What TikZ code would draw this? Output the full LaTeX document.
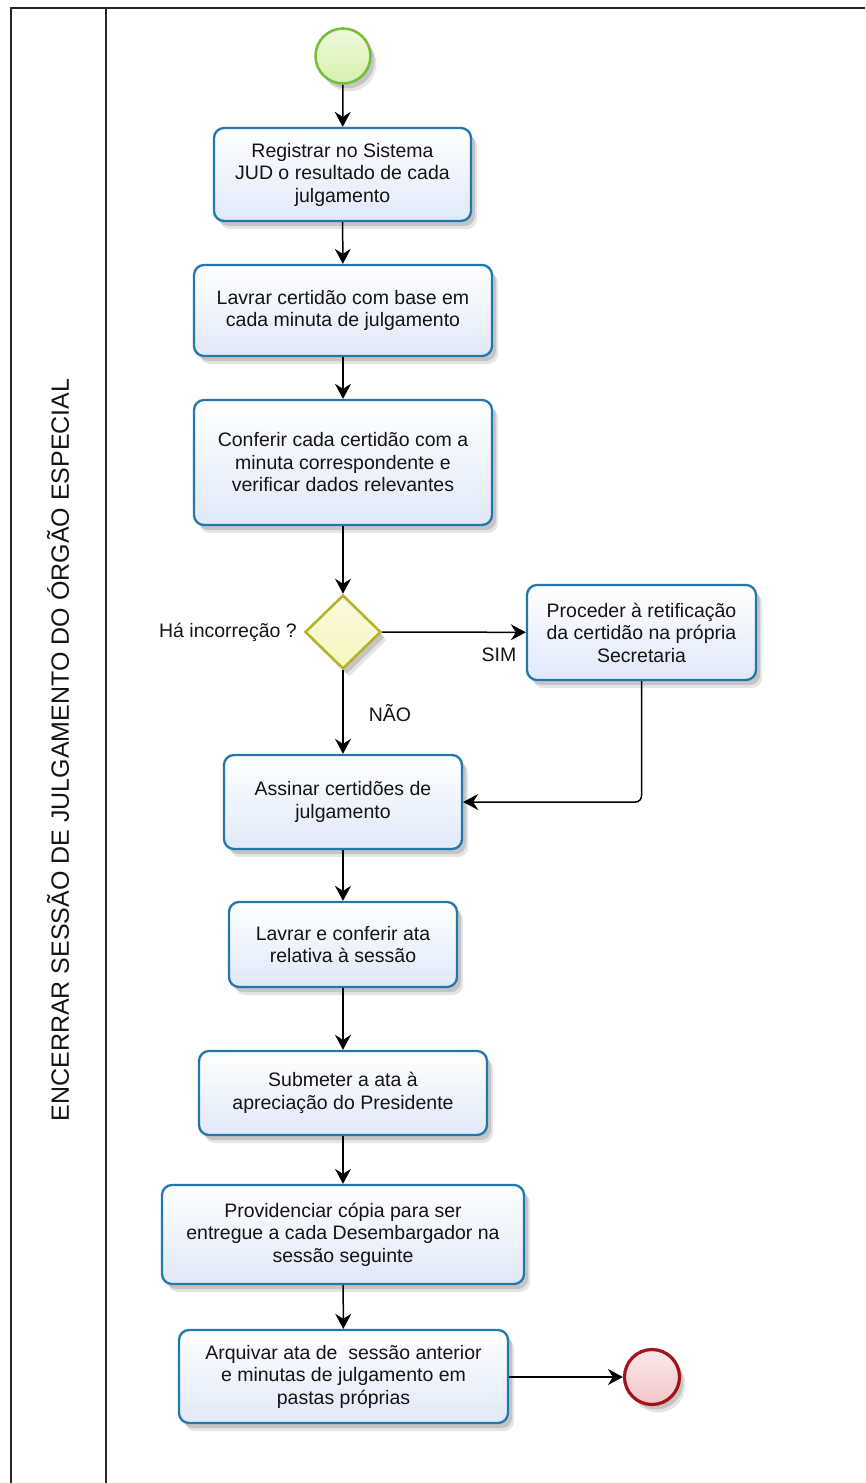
\documentclass[tikz,border=0pt]{standalone}
\usepackage{fontspec}
\setmainfont{Liberation Sans}
\usetikzlibrary{arrows.meta,shapes.geometric,shadows}
\definecolor{taskline}{HTML}{2477AC}
\definecolor{taskfill}{HTML}{E0E8F8}
\definecolor{startline}{HTML}{78BE3C}
\definecolor{startfill}{HTML}{D6F0AC}
\definecolor{endline}{HTML}{A3141A}
\definecolor{endfill}{HTML}{F2C6C8}
\definecolor{gateline}{HTML}{B4B42A}
\definecolor{gatefill}{HTML}{F6F6BE}
\definecolor{txt}{HTML}{141414}
\begin{document}
\begin{tikzpicture}[x=1pt,y=-1pt,
  softshadow/.style={
    drop shadow={shadow xshift=6pt,shadow yshift=-8pt,opacity=0.10,fill=black},
    drop shadow={shadow xshift=4pt,shadow yshift=-5pt,opacity=0.14,fill=black}},
  task/.style={draw=taskline,line width=2.3pt,rounded corners=10pt,
    top color=white,bottom color=taskfill,softshadow,
    align=center,text=txt,inner sep=0pt,
    font=\fontsize{19.5}{22.5}\selectfont},
  startev/.style={circle,draw=startline,line width=2.6pt,minimum size=55pt,
    inner sep=0pt,top color=white!60!startfill,bottom color=startfill,softshadow},
  endev/.style={circle,draw=endline,line width=3.2pt,minimum size=55pt,
    inner sep=0pt,top color=white!60!endfill,bottom color=endfill,softshadow},
  gate/.style={diamond,draw=gateline,line width=2.6pt,minimum width=76pt,
    minimum height=74pt,inner sep=0pt,top color=white!50!gatefill,
    bottom color=gatefill,softshadow},
  flow/.style={-{Stealth[length=15pt,width=16pt,inset=5pt]},line width=1.5pt,black},
  lbl/.style={text=txt,font=\fontsize{19.5}{22}\selectfont,inner sep=0pt},
  lane/.style={line width=1.6pt,draw=black!85}
]
\useasboundingbox (0,0) rectangle (865,1483);

% pool frame and lane header
\draw[lane] (11,1483) -- (11,8) -- (865,8);
\draw[lane] (106,8) -- (106,1483);
\node[rotate=90,text=txt,font=\fontsize{25}{28}\selectfont,inner sep=0pt] (lanetitle)
  at (58,750) {ENCERRAR SESSÃO DE JULGAMENTO DO ÓRGÃO ESPECIAL};

% events, tasks and gateway
\node[startev] (start) at (343,56) {};
\node[task,minimum width=257pt,minimum height=93pt] (t1) at (342.5,174.5)
  {Registrar no Sistema\\JUD o resultado de cada\\julgamento};
\node[task,minimum width=298pt,minimum height=91pt] (t2) at (343,310.5)
  {Lavrar certidão com base em\\cada minuta de julgamento};
\node[task,minimum width=298pt,minimum height=125pt] (t3) at (343,462.5)
  {Conferir cada certidão com a\\minuta correspondente e\\verificar dados relevantes};
\node[gate] (g) at (343,632) {};
\node[task,minimum width=229pt,minimum height=95pt] (ret) at (641.5,632.5)
  {Proceder à retificação\\da certidão na própria\\Secretaria};
\node[task,minimum width=238pt,minimum height=94pt] (t4) at (343,802)
  {Assinar certidões de\\julgamento};
\node[task,minimum width=228pt,minimum height=85pt] (t5) at (343,944.5)
  {Lavrar e conferir ata\\relativa à sessão};
\node[task,minimum width=288pt,minimum height=84pt] (t6) at (343,1093)
  {Submeter a ata à\\apreciação do Presidente};
\node[task,minimum width=362pt,minimum height=99pt] (t7) at (343,1234.5)
  {Providenciar cópia para ser\\entregue a cada Desembargador na\\sessão seguinte};
\node[task,minimum width=329pt,minimum height=93pt] (t8) at (343.5,1376.5)
  {Arquivar ata de\ \ sessão anterior\\e minutas de julgamento em\\pastas próprias};
\node[endev] (end) at (652,1377) {};

% labels
\node[lbl,anchor=east] (q) at (297,632) {Há incorreção ?};
\node[lbl] (sim) at (499,655) {SIM};
\node[lbl] (nao) at (390,713) {NÃO};

% sequence flows
\draw[flow] (start) -- (t1);
\draw[flow] (t1) -- (t2);
\draw[flow] (t2) -- (t3);
\draw[flow] (t3) -- (g);
\draw[flow] (g) -- (ret);
\draw[flow] (g) -- (t4);
\draw[flow,rounded corners=6pt] (ret.south) |- (t4.east);
\draw[flow] (t4) -- (t5);
\draw[flow] (t5) -- (t6);
\draw[flow] (t6) -- (t7);
\draw[flow] (t7) -- (t8);
\draw[flow] (t8.east |- end) -- (end);
\end{tikzpicture}
\end{document}
